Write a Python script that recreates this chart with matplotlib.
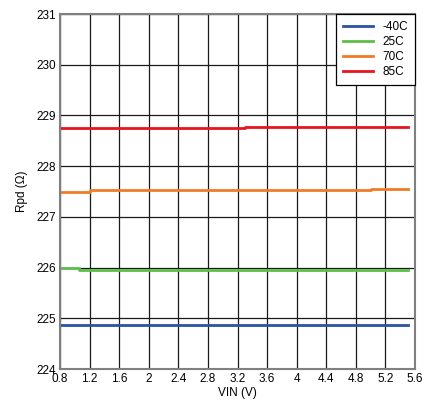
import matplotlib
matplotlib.use("Agg")
import matplotlib.pyplot as plt

plt.rcParams['font.family'] = ['Liberation Sans', 'DejaVu Sans']

# VIN (V) breakpoints and Rpd (ohm) readings for each temperature
vin_m40 = [0.8, 1.2, 5.0, 5.5]
rpd_m40 = [224.86, 224.875, 224.86, 224.86]

vin_25 = [0.8, 1.06, 5.5]
rpd_25 = [225.99, 225.96, 225.96]

vin_70 = [0.8, 1.2, 5.0, 5.5]
rpd_70 = [227.50, 227.53, 227.545, 227.545]

vin_85 = [0.8, 3.3, 5.5]
rpd_85 = [228.755, 228.77, 228.77]

labels = ['-40C', '25C', '70C', '85C']
colors = ['#2a53a3', '#5cbf4a', '#f07c28', '#e8141e']

xticks = [0.8, 1.2, 1.6, 2, 2.4, 2.8, 3.2, 3.6, 4, 4.4, 4.8, 5.2, 5.6]
xtick_labels = ['0.8', '1.2', '1.6', '2', '2.4', '2.8', '3.2', '3.6', '4', '4.4', '4.8', '5.2', '5.6']
yticks = [224, 225, 226, 227, 228, 229, 230, 231]

fig = plt.figure(figsize=(4.24, 4.08), dpi=100)
ax = fig.add_axes([60 / 424, 39 / 408, 355 / 424, 355 / 408])

series = [(vin_m40, rpd_m40), (vin_25, rpd_25), (vin_70, rpd_70), (vin_85, rpd_85)]
for (x, y), lab, c in zip(series, labels, colors):
    ax.plot(x, y, drawstyle='steps-post', color=c, lw=2, label=lab)

ax.set_xlim(0.8, 5.6)
ax.set_ylim(224, 231)
ax.set_xticks(xticks)
ax.set_xticklabels(xtick_labels)
ax.set_yticks(yticks)
ax.grid(True, color='#1a1a1a', lw=0.9)
ax.set_axisbelow(True)
ax.tick_params(length=0, labelsize=8.5, pad=3)
for s in ax.spines.values():
    s.set_color('#808080')
    s.set_linewidth(1.5)

ax.set_xlabel('VIN (V)', fontsize=8.5, labelpad=1)
ax.set_ylabel('Rpd (Ω)', fontsize=8.5, labelpad=6)

leg = ax.legend(loc='upper right', fontsize=8.5, frameon=True, fancybox=False,
                borderaxespad=0, handlelength=2.5, labelspacing=0.25,
                borderpad=0.6, handletextpad=0.8)
leg.get_frame().set_edgecolor('black')
leg.get_frame().set_linewidth(0.9)
leg.get_frame().set_alpha(1)

fig.savefig('out.png', dpi=100)
